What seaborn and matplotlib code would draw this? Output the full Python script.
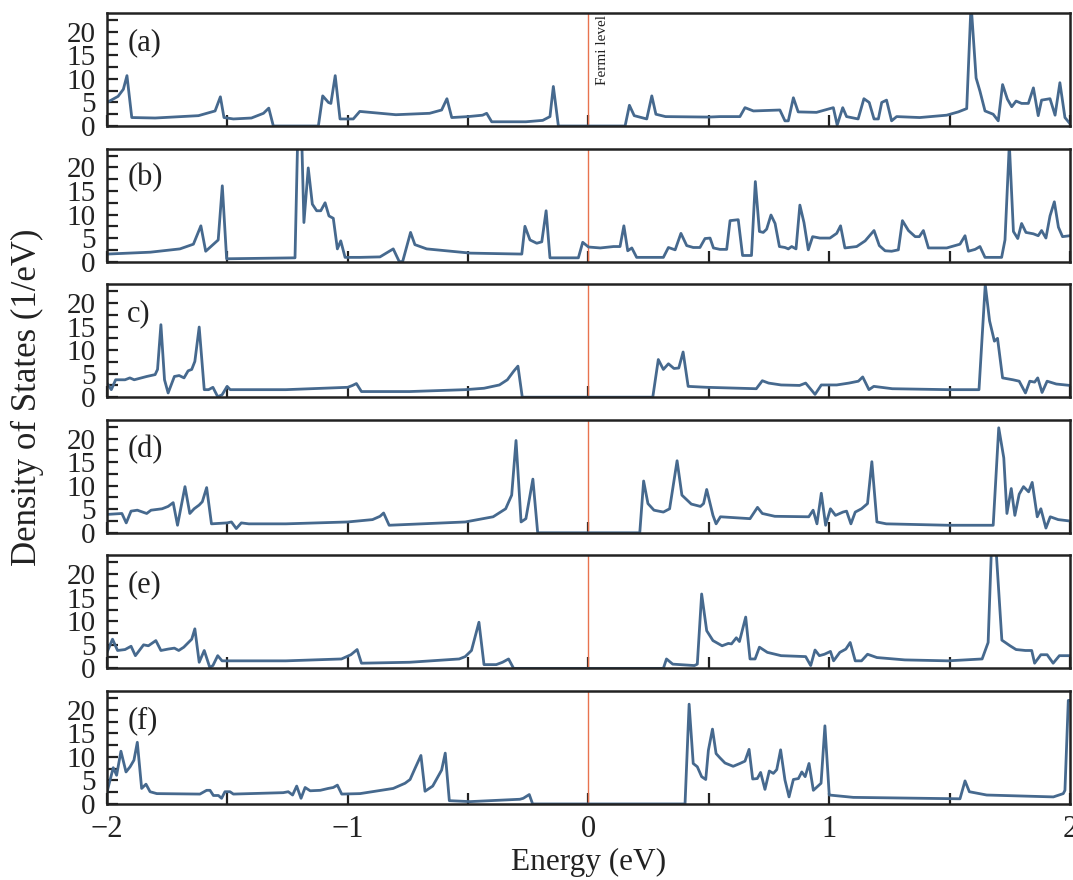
import numpy as np
import pandas as pd
import seaborn as sns
import matplotlib.pyplot as plt
from matplotlib.ticker import MultipleLocator

# energy (eV) / density of states (1/eV)
energy_a = [-2.0, -1.954, -1.932, -1.917, -1.897, -1.80, -1.62, -1.551, -1.529, -1.514,
            -1.475, -1.40, -1.35, -1.328, -1.309, -1.122, -1.104, -1.08, -1.07, -1.052,
            -1.032, -0.977, -0.95, -0.80, -0.66, -0.61, -0.588, -0.568, -0.50, -0.44,
            -0.423, -0.402, -0.26, -0.19, -0.16, -0.146, -0.125, 0.152, 0.17, 0.19,
            0.242, 0.263, 0.28, 0.32, 0.50, 0.546, 0.629, 0.65, 0.685, 0.795,
            0.816, 0.83, 0.851, 0.871, 0.947, 1.017, 1.033, 1.056, 1.072, 1.12,
            1.144, 1.166, 1.186, 1.204, 1.218, 1.238, 1.259, 1.28, 1.376, 1.488,
            1.536, 1.571, 1.589, 1.61, 1.626, 1.647, 1.681, 1.702, 1.72, 1.74,
            1.758, 1.776, 1.799, 1.827, 1.848, 1.868, 1.882, 1.917, 1.938, 1.958,
            1.979, 2.0]
dos_a = [5.0, 6.3, 7.8, 10.7, 1.8, 1.7, 2.2, 3.2, 6.2, 1.8,
         1.5, 1.7, 2.7, 3.8, 0.0, 0.0, 6.4, 5.0, 4.8, 10.7,
         1.5, 1.5, 3.1, 2.4, 2.7, 3.4, 5.8, 1.8, 2.0, 2.3,
         2.7, 0.9, 0.9, 1.2, 2.0, 8.4, 0.0, 0.0, 4.4, 2.2,
         1.5, 6.4, 2.5, 2.0, 1.9, 2.0, 2.0, 3.9, 3.2, 3.4,
         1.1, 1.1, 6.0, 3.0, 2.9, 3.9, 0.2, 3.9, 2.0, 1.5,
         5.8, 5.0, 1.5, 1.5, 5.0, 5.5, 1.1, 2.0, 1.8, 2.3,
         3.0, 3.7, 26.0, 10.2, 7.4, 3.2, 2.5, 1.1, 8.8, 5.7,
         4.1, 5.3, 4.8, 4.8, 8.1, 2.2, 5.5, 5.8, 2.3, 9.2,
         1.8, 0.5]

energy_b = [-2.0, -1.82, -1.697, -1.641, -1.61, -1.59, -1.538, -1.521, -1.503, -1.219,
            -1.208, -1.191, -1.182, -1.164, -1.147, -1.129, -1.112, -1.094, -1.078, -1.06,
            -1.043, -1.029, -1.011, -0.949, -0.866, -0.811, -0.786, -0.772, -0.739, -0.721,
            -0.672, -0.49, -0.277, -0.264, -0.243, -0.215, -0.194, -0.176, -0.16, -0.042,
            -0.024, 0.0, 0.049, 0.104, 0.131, 0.147, 0.163, 0.18, 0.2, 0.311,
            0.332, 0.36, 0.384, 0.408, 0.435, 0.463, 0.484, 0.505, 0.519, 0.546,
            0.574, 0.588, 0.622, 0.64, 0.677, 0.693, 0.71, 0.726, 0.74, 0.758,
            0.775, 0.793, 0.816, 0.83, 0.844, 0.862, 0.878, 0.895, 0.913, 0.931,
            0.961, 1.003, 1.031, 1.047, 1.065, 1.114, 1.149, 1.186, 1.208, 1.232,
            1.259, 1.287, 1.304, 1.329, 1.357, 1.374, 1.391, 1.412, 1.488, 1.543,
            1.564, 1.578, 1.606, 1.626, 1.647, 1.716, 1.73, 1.748, 1.765, 1.783,
            1.799, 1.817, 1.848, 1.868, 1.882, 1.9, 1.917, 1.935, 1.952, 1.969,
            2.0]
dos_b = [1.6, 2.0, 2.7, 3.7, 7.6, 2.2, 4.6, 16.1, 0.6, 0.8,
         26.0, 26.0, 8.3, 19.9, 12.2, 10.8, 10.8, 12.5, 9.7, 9.2,
         2.7, 4.4, 0.9, 0.9, 1.0, 2.7, 0.0, 0.0, 6.2, 3.6,
         2.7, 1.8, 1.6, 7.5, 4.6, 3.9, 4.2, 10.8, 0.8, 0.8,
         4.1, 3.1, 2.9, 3.2, 3.2, 7.6, 2.3, 2.9, 0.9, 0.9,
         3.0, 2.5, 6.0, 3.4, 3.0, 3.0, 4.9, 5.0, 2.9, 2.6,
         2.6, 8.7, 8.9, 1.3, 1.3, 17.0, 6.4, 6.2, 6.9, 9.9,
         8.1, 3.2, 3.0, 2.7, 3.2, 2.7, 12.0, 8.3, 2.5, 5.3,
         5.0, 5.0, 6.0, 7.6, 2.9, 3.2, 4.4, 6.6, 3.4, 2.3,
         2.2, 2.5, 8.7, 6.6, 5.3, 5.3, 6.6, 2.9, 2.9, 3.7,
         5.5, 2.2, 2.6, 3.2, 0.9, 0.9, 4.6, 25.0, 6.4, 4.9,
         8.1, 6.2, 5.9, 5.5, 6.6, 5.0, 9.7, 12.7, 7.3, 5.3,
         5.5]

energy_c = [-2.0, -1.982, -1.964, -1.925, -1.905, -1.887, -1.835, -1.80, -1.79, -1.776,
            -1.761, -1.746, -1.72, -1.70, -1.68, -1.663, -1.648, -1.635, -1.617, -1.596,
            -1.578, -1.56, -1.54, -1.522, -1.501, -1.488, -1.257, -1.0, -0.98, -0.964,
            -0.943, -0.743, -0.512, -0.434, -0.37, -0.337, -0.311, -0.293, -0.275, 0.267,
            0.29, 0.311, 0.332, 0.355, 0.375, 0.393, 0.414, 0.491, 0.697, 0.722,
            0.748, 0.8, 0.877, 0.902, 0.941, 0.967, 1.031, 1.082, 1.121, 1.139,
            1.165, 1.185, 1.262, 1.494, 1.622, 1.648, 1.666, 1.686, 1.699, 1.72,
            1.763, 1.789, 1.815, 1.833, 1.853, 1.866, 1.884, 1.905, 1.943, 2.0]
dos_c = [3.0, 1.6, 3.7, 3.7, 4.1, 3.7, 4.4, 4.8, 5.9, 15.4,
         3.7, 0.9, 4.4, 4.6, 4.1, 5.6, 5.9, 7.6, 14.9, 1.6,
         1.6, 2.1, 0.1, 0.5, 2.3, 1.6, 1.6, 2.1, 2.5, 2.9,
         1.2, 1.2, 1.6, 1.9, 2.6, 3.7, 5.5, 6.6, 0.0, 0.0,
         8.0, 5.9, 7.1, 6.1, 6.2, 9.6, 2.3, 2.1, 1.8, 3.5,
         3.0, 2.6, 2.5, 3.0, 0.6, 2.6, 2.6, 3.0, 3.4, 4.3,
         1.6, 2.3, 1.8, 1.6, 1.6, 23.9, 16.2, 11.9, 12.5, 4.1,
         3.7, 3.4, 0.9, 3.4, 3.2, 4.1, 1.0, 3.4, 2.8, 2.5]

energy_d = [-2.0, -1.938, -1.92, -1.90, -1.874, -1.835, -1.817, -1.771, -1.746, -1.725,
            -1.707, -1.676, -1.656, -1.638, -1.617, -1.604, -1.586, -1.566, -1.501, -1.483,
            -1.463, -1.442, -1.411, -1.257, -1.0, -0.897, -0.866, -0.851, -0.828, -0.512,
            -0.396, -0.344, -0.319, -0.301, -0.28, -0.26, -0.231, -0.211, 0.213, 0.229,
            0.247, 0.272, 0.311, 0.337, 0.368, 0.388, 0.427, 0.465, 0.478, 0.491,
            0.517, 0.53, 0.548, 0.671, 0.702, 0.722, 0.774, 0.915, 0.933, 0.949,
            0.967, 0.985, 1.005, 1.026, 1.057, 1.072, 1.09, 1.108, 1.134, 1.159,
            1.177, 1.198, 1.237, 1.494, 1.681, 1.704, 1.725, 1.738, 1.756, 1.771,
            1.789, 1.807, 1.828, 1.843, 1.864, 1.879, 1.90, 1.918, 1.951, 2.0]
dos_d = [3.9, 4.1, 2.1, 4.6, 4.8, 4.1, 4.8, 5.1, 5.6, 6.4,
         1.6, 9.8, 4.1, 5.1, 5.9, 6.6, 9.6, 1.9, 2.1, 2.3,
         0.9, 2.1, 1.9, 1.9, 2.3, 2.8, 3.5, 4.2, 1.6, 2.3,
         3.4, 5.1, 8.0, 19.6, 2.3, 3.0, 11.4, 0.0, 0.0, 11.0,
         6.2, 4.8, 4.4, 5.1, 15.3, 8.0, 6.1, 5.6, 6.2, 9.2,
         3.7, 1.9, 3.4, 3.0, 5.4, 4.1, 3.5, 3.4, 4.8, 1.9,
         8.4, 1.6, 5.1, 3.7, 4.4, 4.6, 1.9, 4.4, 5.1, 6.2,
         15.1, 2.3, 1.9, 1.6, 1.6, 22.3, 15.9, 4.1, 9.4, 3.7,
         8.2, 9.8, 8.7, 10.7, 3.4, 5.1, 1.0, 3.4, 2.8, 2.5]

energy_e = [-2.0, -1.977, -1.956, -1.925, -1.90, -1.882, -1.848, -1.828, -1.797, -1.776,
            -1.746, -1.72, -1.702, -1.681, -1.648, -1.635, -1.617, -1.596, -1.573, -1.56,
            -1.54, -1.522, -1.501, -1.257, -1.026, -0.987, -0.961, -0.943, -0.743, -0.537,
            -0.512, -0.486, -0.455, -0.434, -0.383, -0.357, -0.332, -0.311, 0.311, 0.324,
            0.35, 0.44, 0.452, 0.47, 0.491, 0.517, 0.555, 0.581, 0.594, 0.614,
            0.627, 0.653, 0.671, 0.692, 0.71, 0.743, 0.8, 0.902, 0.923, 0.941,
            0.959, 0.98, 1.005, 1.018, 1.044, 1.069, 1.087, 1.108, 1.134, 1.159,
            1.198, 1.314, 1.494, 1.635, 1.66, 1.674, 1.692, 1.717, 1.751, 1.776,
            1.815, 1.841, 1.853, 1.879, 1.905, 1.93, 1.956, 2.0]
dos_e = [3.4, 6.2, 3.8, 4.0, 4.7, 2.7, 5.0, 4.8, 5.9, 3.8,
         4.1, 4.3, 3.8, 4.5, 6.2, 8.4, 1.3, 3.8, 0.2, 0.6,
         2.7, 1.6, 1.6, 1.6, 2.0, 2.9, 4.0, 1.1, 1.3, 2.0,
         2.5, 3.8, 9.8, 0.8, 0.8, 1.3, 2.0, 0.0, 0.0, 2.0,
         0.9, 0.6, 0.9, 15.8, 8.0, 5.9, 4.8, 5.3, 5.2, 6.5,
         5.7, 10.9, 2.0, 2.0, 4.5, 3.4, 2.7, 2.5, 0.6, 3.9,
         2.7, 3.0, 3.6, 1.6, 3.4, 4.1, 5.5, 1.6, 1.6, 3.0,
         2.3, 1.8, 1.6, 2.0, 5.5, 26.0, 26.0, 6.0, 4.8, 4.0,
         3.8, 3.8, 1.1, 2.9, 2.9, 1.1, 2.7, 2.7]

energy_f = [-2.0, -1.974, -1.96, -1.942, -1.921, -1.904, -1.888, -1.874, -1.856, -1.838,
            -1.821, -1.793, -1.614, -1.586, -1.572, -1.558, -1.537, -1.524, -1.51, -1.489,
            -1.475, -1.268, -1.247, -1.229, -1.212, -1.194, -1.177, -1.156, -1.114, -1.081,
            -1.06, -1.043, -1.025, -0.949, -0.811, -0.762, -0.741, -0.721, -0.696, -0.679,
            -0.647, -0.61, -0.595, -0.578, -0.492, -0.285, -0.271, -0.246, -0.232, 0.401,
            0.418, 0.435, 0.452, 0.47, 0.487, 0.498, 0.515, 0.53, 0.546, 0.567,
            0.601, 0.629, 0.65, 0.667, 0.682, 0.701, 0.715, 0.733, 0.751, 0.768,
            0.782, 0.798, 0.816, 0.833, 0.851, 0.872, 0.886, 0.9, 0.916, 0.934,
            0.966, 0.982, 1.0, 1.1, 1.543, 1.564, 1.582, 1.654, 1.931, 1.972,
            1.979, 1.993, 2.0]
dos_f = [2.5, 7.7, 6.1, 11.2, 6.8, 7.9, 9.3, 13.1, 3.3, 4.2,
         2.6, 2.2, 2.1, 2.9, 2.9, 1.8, 1.8, 1.2, 2.6, 2.6,
         2.1, 2.4, 2.6, 1.9, 3.8, 1.2, 3.5, 2.8, 2.9, 3.3,
         3.5, 4.0, 2.1, 2.2, 3.3, 4.4, 5.2, 7.5, 10.3, 2.7,
         3.8, 7.2, 10.8, 0.7, 0.5, 1.0, 1.2, 2.0, 0.0, 0.0,
         21.2, 8.6, 7.9, 5.8, 5.2, 11.4, 15.9, 10.7, 9.8, 8.7,
         8.0, 8.6, 9.1, 11.6, 5.3, 5.4, 6.7, 3.1, 7.0, 6.5,
         7.3, 11.5, 5.1, 1.5, 5.2, 5.4, 6.8, 5.8, 8.6, 2.9,
         4.4, 16.6, 1.9, 1.4, 1.1, 4.9, 2.6, 1.9, 1.5, 2.2,
         2.9, 22.0, 22.0]

panel_labels = ['(a)', '(b)', 'c)', '(d)', '(e)', '(f)']
energies = [energy_a, energy_b, energy_c, energy_d, energy_e, energy_f]
dos_values = [dos_a, dos_b, dos_c, dos_d, dos_e, dos_f]

line_color = '#46698e'
fermi_color = '#e8734f'

sns.set_theme(style='ticks')
plt.rcParams['font.family'] = ['Liberation Serif', 'DejaVu Serif']

fig, axes = plt.subplots(6, 1, figsize=(10.73, 8.8), dpi=100, sharex=True)
fig.subplots_adjust(left=0.0997, right=0.9972, top=0.9852, bottom=0.0864, hspace=0.2)

for ax, lab, e, d in zip(axes, panel_labels, energies, dos_values):
    df = pd.DataFrame({'Energy': e, 'DOS': d})
    sns.lineplot(data=df, x='Energy', y='DOS', ax=ax, color=line_color,
                 linewidth=2.0, sort=False, estimator=None)
    ax.axvline(0, color=fermi_color, linewidth=1.0, zorder=1)
    ax.set_xlim(-2, 2)
    ax.set_ylim(0, 24)
    ax.set_xlabel('')
    ax.set_ylabel('')
    ax.xaxis.set_major_locator(MultipleLocator(1))
    ax.xaxis.set_minor_locator(MultipleLocator(0.5))
    ax.yaxis.set_major_locator(MultipleLocator(5))
    ax.yaxis.set_minor_locator(MultipleLocator(2.5))
    ax.tick_params(which='both', direction='in', length=8, width=1.6,
                   color='#222222', top=False, right=False, labelcolor='#222222')
    ax.tick_params(axis='y', pad=8, labelsize=21)
    ax.tick_params(axis='x', pad=8, labelsize=22)
    for s in ax.spines.values():
        s.set_linewidth(1.8)
        s.set_color('#222222')
    ax.text(0.021, 0.74, lab, transform=ax.transAxes, fontsize=22,
            ha='left', va='center', color='#222222')

axes[0].text(0.03, 23.6, 'Fermi level', rotation=90, ha='left', va='top',
             fontsize=11, color='#222222')

axes[-1].set_xlabel('Energy (eV)', fontsize=22.5, labelpad=3, color='#222222')
fig.text(0.026, 0.548, 'Density of States (1/eV)', rotation=90, ha='center',
         va='center', fontsize=25, color='#222222')

fig.savefig('out.png', dpi=100)
